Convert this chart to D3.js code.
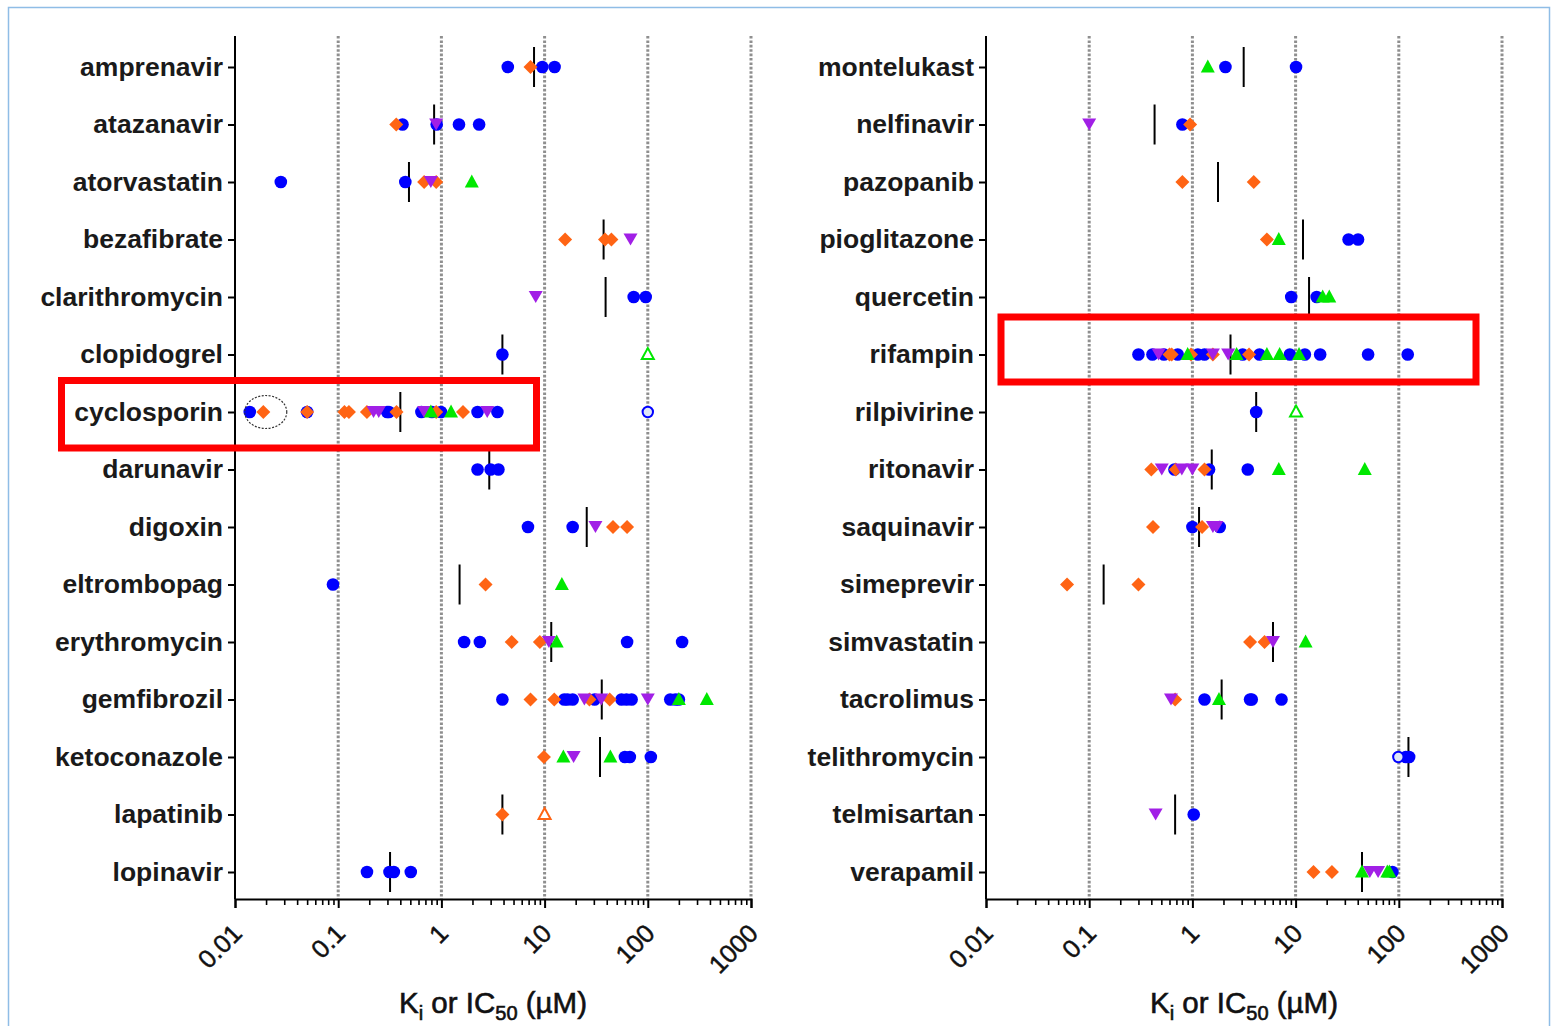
<!DOCTYPE html>
<html><head><meta charset="utf-8">
<script src="https://cdn.jsdelivr.net/npm/d3@7"></script>
<style>
html,body{margin:0;padding:0;background:#fff;}
svg{display:block;font-family:"Liberation Sans",Arial,sans-serif;}
</style></head>
<body>
<svg id="chart" width="1552" height="1026"></svg>
<script>
// ---------- DATA ----------
const drugsLeft = ["amprenavir","atazanavir","atorvastatin","bezafibrate","clarithromycin","clopidogrel","cyclosporin","darunavir","digoxin","eltrombopag","erythromycin","gemfibrozil","ketoconazole","lapatinib","lopinavir"];
const drugsRight = ["montelukast","nelfinavir","pazopanib","pioglitazone","quercetin","rifampin","rilpivirine","ritonavir","saquinavir","simeprevir","simvastatin","tacrolimus","telithromycin","telmisartan","verapamil"];
const tickLabels = ["0.01","0.1","1","10","100","1000"];
const axisTitle = ["K","i"," or IC","50"," (µM)"];

// blue filled circles
const blueCircles = {
  amprenavir:[4.4,9.5,12.5], atazanavir:[0.42,0.90,1.48,2.32], atorvastatin:[0.0278,0.447],
  clarithromycin:[73,95.5], clopidogrel:[3.9],
  cyclosporin:[0.0139,0.05,0.298,0.31,0.64,0.81,0.99,2.24,3.49],
  darunavir:[2.24,3.0,3.57], digoxin:[6.9,18.7], eltrombopag:[0.089], erythromycin:[1.66,2.36,63,215],
  gemfibrozil:[3.9,15.5,16.7,18.7,30.5,55.6,62.2,69.7,165,185,200],
  ketoconazole:[60,67,107], lopinavir:[0.19,0.314,0.346,0.505],
  montelukast:[2.09,10.1], nelfinavir:[0.80], pioglitazone:[32.6,40.3], quercetin:[9.07,16],
  rifampin:[0.30,0.41,0.53,0.72,1.13,1.31,3.07,4.47,8.8,12.3,17.3,50.4,122],
  rilpivirine:[4.15], ritonavir:[0.67,1.45,3.44], saquinavir:[1.0,1.84],
  tacrolimus:[1.31,3.62,3.76,7.3], telithromycin:[117,126], telmisartan:[1.03], verapamil:[86.7]
};
// orange diamonds
const orangeDiamonds = {
  amprenavir:[7.3], atazanavir:[0.365], atorvastatin:[0.68,0.89], bezafibrate:[15.8,38.5,44.4],
  cyclosporin:[0.0188,0.05,0.115,0.127,0.19,0.367,0.89,1.62],
  digoxin:[46,63], eltrombopag:[2.68], erythromycin:[4.8,9.0], gemfibrozil:[7.3,12.4,27.2,42.7],
  ketoconazole:[9.85], lapatinib:[3.9],
  nelfinavir:[0.95], pazopanib:[0.80,3.93], pioglitazone:[5.27], rifampin:[0.60,0.63,0.97,1.58,3.54],
  ritonavir:[0.40,0.69,1.31], saquinavir:[0.415,1.24], simeprevir:[0.061,0.30], simvastatin:[3.62,5.0],
  tacrolimus:[0.68], verapamil:[14.9,22.5]
};
// purple downward triangles
const purpleDown = {
  atazanavir:[0.89], atorvastatin:[0.79], bezafibrate:[68], clarithromycin:[8.2],
  cyclosporin:[0.22,0.247,0.68,2.78], digoxin:[31.1], erythromycin:[11.0], gemfibrozil:[24.3,35.4,100],
  ketoconazole:[19.1],
  nelfinavir:[0.1], rifampin:[0.47,1.58,2.22], ritonavir:[0.505,0.79,1.0], saquinavir:[1.58,1.71],
  simvastatin:[6.04], tacrolimus:[0.62], telmisartan:[0.44], verapamil:[52.4,63]
};
// green upward triangles
const greenUp = {
  atorvastatin:[1.97], cyclosporin:[0.79,1.24], eltrombopag:[14.7], erythromycin:[13.1],
  gemfibrozil:[200,373], ketoconazole:[15.2,43.4],
  montelukast:[1.41], pioglitazone:[6.87], quercetin:[18.3,21.2], rifampin:[0.90,2.68,5.27,7.0,10.8],
  ritonavir:[6.87,46.8], simvastatin:[12.5], tacrolimus:[1.81], verapamil:[44,77.4,81]
};
// open markers
const openBlueCircles = { cyclosporin:[100], telithromycin:[99] };
const openGreenUp = { clopidogrel:[100], rilpivirine:[10.1] };
const openOrangeUp = { lapatinib:[10] };
// median bars
const medians = {
  amprenavir:7.9, atazanavir:0.85, atorvastatin:0.485, bezafibrate:37.3, clarithromycin:39,
  clopidogrel:3.9, cyclosporin:0.40, darunavir:2.91, digoxin:25.6, eltrombopag:1.50,
  erythromycin:11.6, gemfibrozil:35.8, ketoconazole:34.4, lapatinib:3.9, lopinavir:0.318,
  montelukast:3.14, nelfinavir:0.43, pazopanib:1.77, pioglitazone:11.8, quercetin:13.5,
  rifampin:2.34, rilpivirine:4.15, ritonavir:1.54, saquinavir:1.16, simeprevir:0.138,
  simvastatin:6.04, tacrolimus:1.92, telithromycin:124, telmisartan:0.68, verapamil:44
};
const highlighted = ["cyclosporin","rifampin"];

// ---------- DRAW ----------
const svg = d3.select("#chart");
const C = {blue:"#0000ff", orange:"#ff6414", purple:"#a11fe6", green:"#00e800"};

// page frame
svg.append("rect").attr("x",8.5).attr("y",7.5).attr("width",1541).attr("height",1030)
  .attr("fill","none").attr("stroke","#8fbde6").attr("stroke-width",1.5);

const panels = [
  {drugs:drugsLeft, x0:235, x1:751, box:[61.5,536.5], boxY:[-31.5,36]},
  {drugs:drugsRight, x0:986, x1:1502, box:[1001,1476], boxY:[-37.5,27.5]}
];
const yTop = 36, yAxis = 899;

const diamondPath = r => `M0,${-r}L${r},0L0,${r}L${-r},0Z`;
const downPath = (w,h) => `M${-w/2},${-h/2}L${w/2},${-h/2}L0,${h/2}Z`;
const upPath = (w,h) => `M${-w/2},${h/2}L${w/2},${h/2}L0,${-h/2}Z`;

panels.forEach((p,pi) => {
  const x = d3.scaleLog().domain([0.01,1000]).range([p.x0,p.x1]);
  const y = d3.scalePoint().domain(p.drugs).range([67,872]);
  const g = svg.append("g");

  // dashed decade grid lines
  g.selectAll(".grid").data([0.1,1,10,100,1000]).enter().append("line")
    .attr("x1",d=>x(d)).attr("x2",d=>x(d)).attr("y1",yTop).attr("y2",yAxis)
    .attr("stroke","#8f8f8f").attr("stroke-width",3).attr("stroke-dasharray","2.6,1.8");

  // x axis (major)
  const majors = [0.01,0.1,1,10,100,1000];
  const xa = g.append("g").attr("transform",`translate(0,${yAxis})`)
    .call(d3.axisBottom(x).tickValues(majors).tickSize(9).tickFormat((d,i)=>tickLabels[i]));
  xa.select(".domain").attr("stroke","#000").attr("stroke-width",2);
  xa.selectAll(".tick line").attr("stroke","#000").attr("stroke-width",2);
  xa.selectAll(".tick text")
    .attr("font-size",25.5).attr("font-weight","normal").attr("fill","#111")
    .attr("stroke","#111").attr("stroke-width",0.5)
    .attr("text-anchor","end").attr("dy",0).attr("y",0)
    .attr("transform","translate(8,36) rotate(-45)");
  // minor ticks
  const minors = [];
  [0.01,0.1,1,10,100].forEach(b=>{for(let k=2;k<=9;k++) minors.push(b*k);});
  const xm = g.append("g").attr("transform",`translate(0,${yAxis})`)
    .call(d3.axisBottom(x).tickValues(minors).tickSize(6).tickFormat(""));
  xm.select(".domain").remove();
  xm.selectAll(".tick line").attr("stroke","#000").attr("stroke-width",1.6);

  // y axis
  const ya = g.append("g").attr("transform",`translate(${p.x0},0)`)
    .call(d3.axisLeft(y).tickSize(7).tickPadding(5));
  ya.select(".domain").attr("d",`M0,${yTop}V${yAxis}`).attr("stroke","#000").attr("stroke-width",2);
  ya.selectAll(".tick line").attr("stroke","#000").attr("stroke-width",2);
  ya.selectAll(".tick text").attr("font-size",26.5).attr("font-weight","bold").attr("fill","#1a1a1a")
    .attr("dy","0.32em");

  // axis title
  const t = g.append("text").attr("x",(p.x0+p.x1)/2).attr("y",1013)
    .attr("text-anchor","middle").attr("font-size",29.5).attr("fill","#111")
    .attr("stroke","#111").attr("stroke-width",0.6);
  t.append("tspan").text(axisTitle[0]);
  t.append("tspan").text(axisTitle[1]).attr("font-size",20).attr("dy",7);
  t.append("tspan").text(axisTitle[2]).attr("dy",-7);
  t.append("tspan").text(axisTitle[3]).attr("font-size",20).attr("dy",7);
  t.append("tspan").text(axisTitle[4]).attr("dy",-7);

  // flatten helpers
  const flat = obj => p.drugs.flatMap(dr => (obj[dr]||[]).map(v=>({dr,v})));

  // median bars
  g.selectAll(".med").data(p.drugs.filter(d=>medians[d]!=null)).enter().append("line")
    .attr("x1",d=>x(medians[d])).attr("x2",d=>x(medians[d]))
    .attr("y1",d=>y(d)-20).attr("y2",d=>y(d)+20)
    .attr("stroke","#000").attr("stroke-width",2);

  // markers
  g.selectAll(".bc").data(flat(blueCircles)).enter().append("circle")
    .attr("cx",d=>x(d.v)).attr("cy",d=>y(d.dr)).attr("r",6.3).attr("fill",C.blue);
  g.selectAll(".od").data(flat(orangeDiamonds)).enter().append("path")
    .attr("d",diamondPath(7)).attr("transform",d=>`translate(${x(d.v)},${y(d.dr)})`).attr("fill",C.orange);
  g.selectAll(".pd").data(flat(purpleDown)).enter().append("path")
    .attr("d",downPath(14,12)).attr("transform",d=>`translate(${x(d.v)},${y(d.dr)})`).attr("fill",C.purple);
  g.selectAll(".gu").data(flat(greenUp)).enter().append("path")
    .attr("d",upPath(14,13)).attr("transform",d=>`translate(${x(d.v)},${y(d.dr)-1})`).attr("fill",C.green);
  g.selectAll(".obc").data(flat(openBlueCircles)).enter().append("circle")
    .attr("cx",d=>x(d.v)).attr("cy",d=>y(d.dr)).attr("r",5.2).attr("fill","#dfe6f7")
    .attr("stroke",C.blue).attr("stroke-width",2);
  g.selectAll(".ogu").data(flat(openGreenUp)).enter().append("path")
    .attr("d",upPath(12,11)).attr("transform",d=>`translate(${x(d.v)},${y(d.dr)-1})`)
    .attr("fill","#fff").attr("stroke",C.green).attr("stroke-width",2);
  g.selectAll(".oou").data(flat(openOrangeUp)).enter().append("path")
    .attr("d",upPath(12,11)).attr("transform",d=>`translate(${x(d.v)},${y(d.dr)-1})`)
    .attr("fill","#fff").attr("stroke",C.orange).attr("stroke-width",2);

  // dashed ellipse around lowest cyclosporin values
  if (p.drugs.includes("cyclosporin")) {
    const lo = Math.min(...blueCircles.cyclosporin, ...orangeDiamonds.cyclosporin);
    svg.append("ellipse").attr("cx",x(lo)+16).attr("cy",y("cyclosporin")).attr("rx",21).attr("ry",16.5)
      .attr("fill","none").attr("stroke","#333").attr("stroke-width",1.2).attr("stroke-dasharray","2,1.5");
  }

  // red highlight box
  highlighted.filter(d=>p.drugs.includes(d)).forEach(d=>{
    svg.append("rect").attr("x",p.box[0]).attr("y",y(d)+p.boxY[0])
      .attr("width",p.box[1]-p.box[0]).attr("height",p.boxY[1]-p.boxY[0])
      .attr("fill","none").attr("stroke","#ff0000").attr("stroke-width",7);
  });
});
</script>
</body></html>
